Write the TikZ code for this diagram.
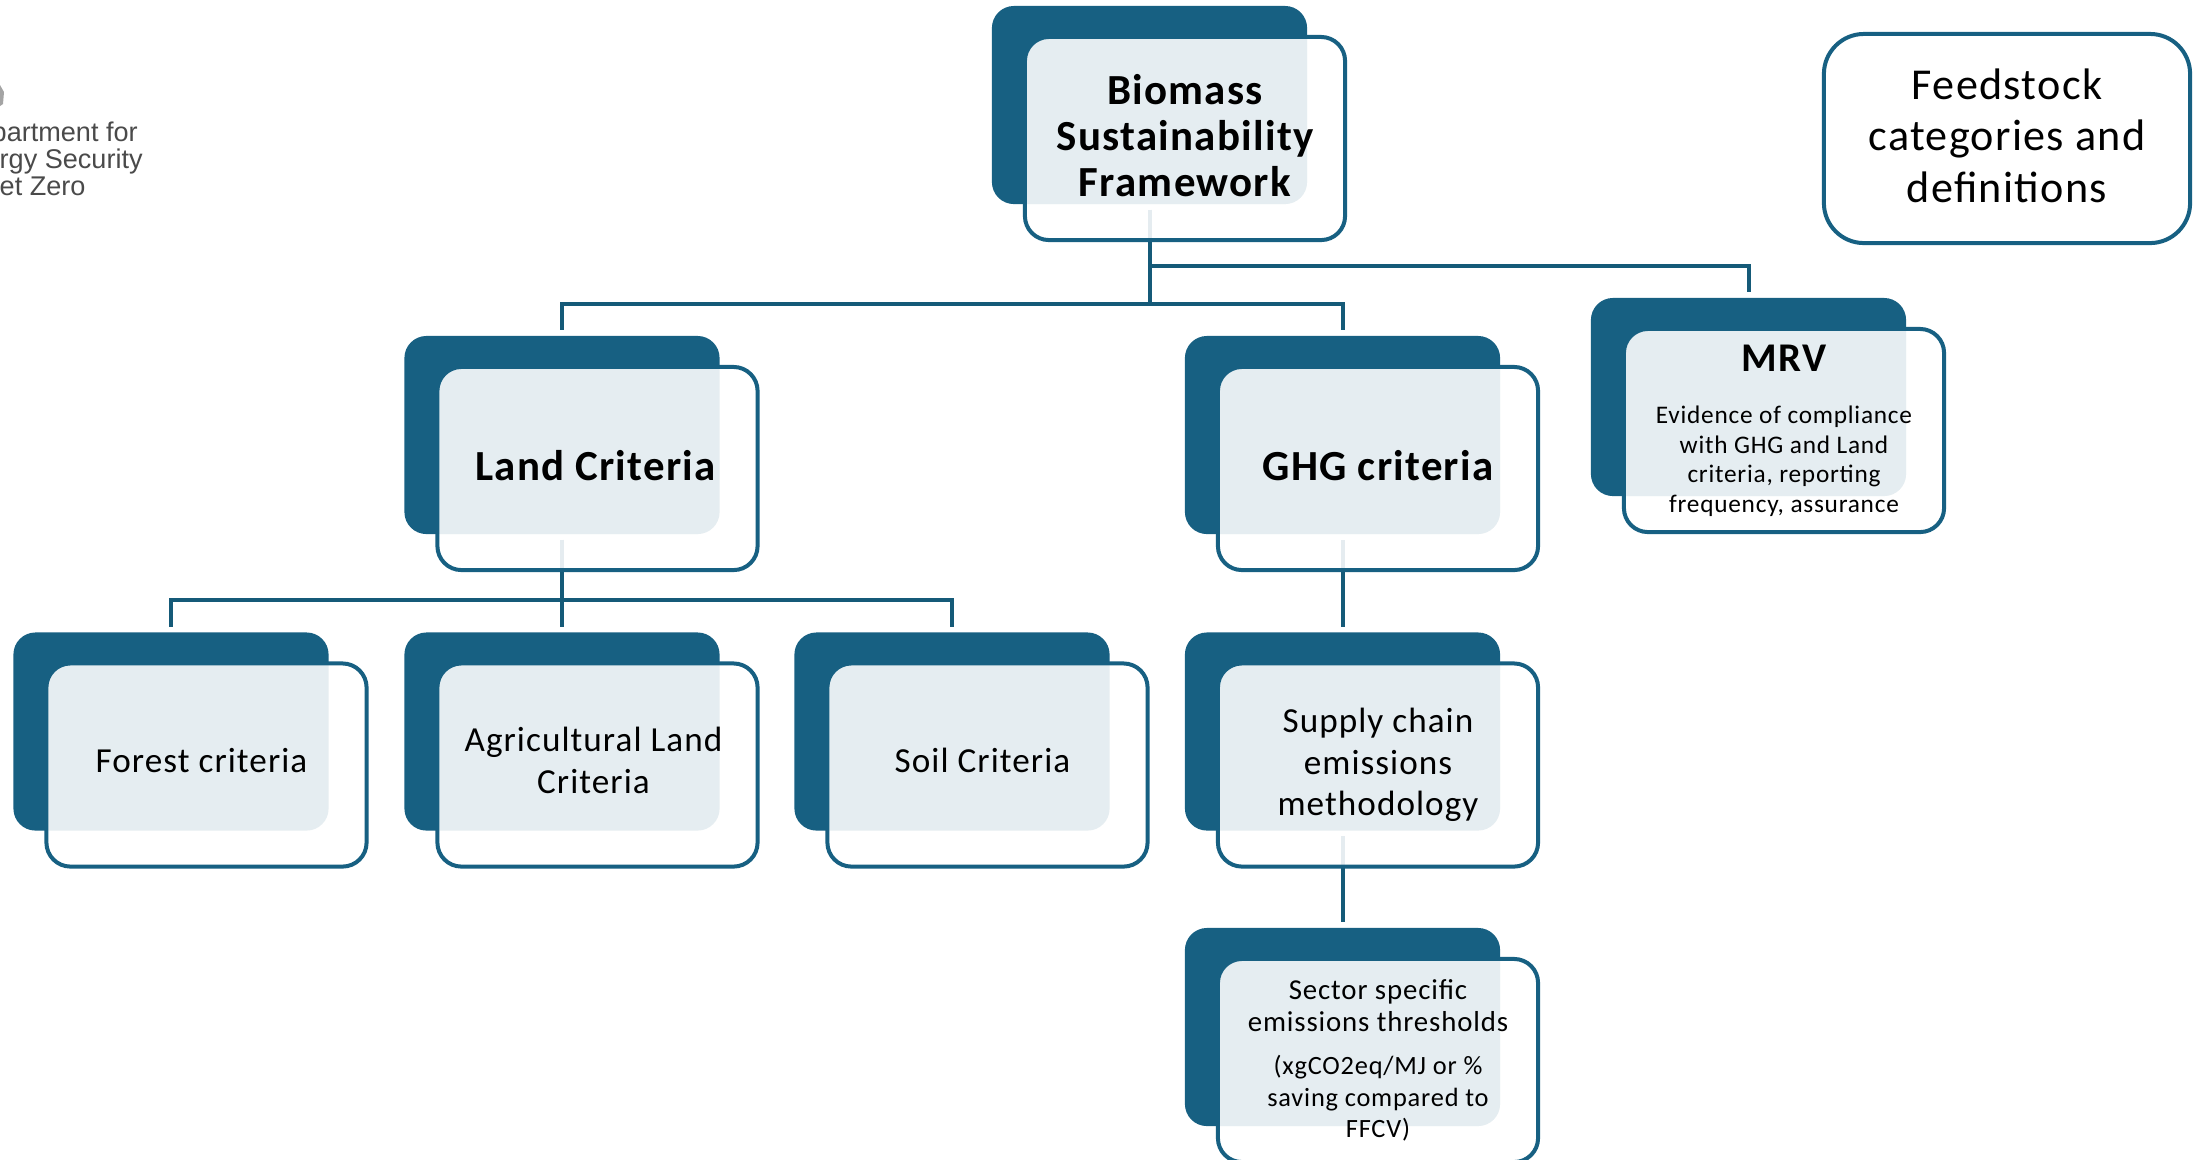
\documentclass[tikz,border=0pt]{standalone}
\usepackage{fontspec}
\setmainfont{Carlito}[LetterSpace=3]
\newfontfamily\logofont{Liberation Sans}
\usepackage{xcolor}
\definecolor{blockblue}{HTML}{176082}
\definecolor{linkblue}{HTML}{155A78}
\definecolor{logogrey}{HTML}{4A4A4A}
\newcommand{\sectorfont}{\fontsize{7.5}{8.9}\selectfont}
\newcommand{\sectorfontb}{\fontsize{8.2}{9.4}\selectfont}
\tikzset{
  blockback/.style={rectangle,rounded corners=.22cm,fill=blockblue,minimum width=3.15cm,minimum height=1.98cm,inner sep=0pt},
  blockfront/.style={rectangle,rounded corners=.24cm,draw=blockblue,line width=.04cm,fill=white,fill opacity=.89,draw opacity=1,text opacity=1,text=black,
    minimum width=3.2cm,minimum height=2.03cm,inner sep=0pt,align=center,font=\fontsize{10}{11.8}\selectfont},
  headtext/.style={font=\bfseries\fontsize{12.2}{13.2}\selectfont,text depth=.06cm},
  lifted/.style={text depth=.09cm},
  link/.style={draw=linkblue,line width=.04cm,shorten <=.05cm,shorten >=.05cm},
}
\begin{document}
\begin{tikzpicture}[x=.01cm,y=-.01cm]
\useasboundingbox (0,0) rectangle (2205,1159);
\node[blockback] (framework) at (1149.5,105) {};
\node[blockback] (land) at (562,435) {};
\node[blockback] (ghg) at (1342.5,435) {};
\node[blockback] (mrv) at (1748.5,397) {};
\node[blockback] (forest) at (171,731.5) {};
\node[blockback] (agri) at (562,731.5) {};
\node[blockback] (soil) at (952,731.5) {};
\node[blockback] (supply) at (1342.5,731.5) {};
\node[blockback] (sector) at (1342.5,1027) {};
\coordinate (busa) at (0,304);
\coordinate (busb) at (0,266);
\coordinate (busc) at (0,600);
\draw[link] (framework.south) -- (framework.south |- busa) -| (land.north);
\draw[link] (framework.south) -- (framework.south |- busa) -| (ghg.north);
\draw[link] (framework.south) -- (framework.south |- busb) -| (mrv.north);
\draw[link] (land.south) -- (land.south |- busc) -| (forest.north);
\draw[link] (land.south) -- (agri.north);
\draw[link] (land.south) -- (land.south |- busc) -| (soil.north);
\draw[link] (ghg.south) -- (supply.north);
\draw[link] (supply.south) -- (sector.north);
\node[blockfront,headtext] (frameworktext) at ([shift={(35.5,33.5)}]framework) {Biomass\\Sustainability\\Framework};
\node[blockfront,headtext] (landtext) at ([shift={(35.5,33.5)}]land) {Land Criteria\hspace*{.04cm}};
\node[blockfront,headtext] (ghgtext) at ([shift={(35.5,33.5)}]ghg) {GHG criteria};
\node[blockfront,font=\fontsize{7.2}{8.4}\selectfont] (mrvtext) at ([shift={(35.5,33.5)}]mrv) {{\bfseries\fontsize{11.6}{15}\selectfont MRV}\\[6.6pt]Evidence of compliance\\with GHG and Land\\criteria, reporting\\frequency, assurance};
\node[blockfront,lifted] (foresttext) at ([shift={(35.5,33.5)}]forest) {Forest criteria\hspace*{.1cm}};
\node[blockfront,lifted] (agritext) at ([shift={(35.5,33.5)}]agri) {Agricultural Land\hspace*{.08cm}\\Criteria\hspace*{.08cm}};
\node[blockfront,lifted] (soiltext) at ([shift={(35.5,33.5)}]soil) {Soil Criteria\hspace*{.1cm}};
\node[blockfront] (supplytext) at ([shift={(35.5,33.5)}]supply) {Supply chain\\emissions\\methodology};
\node[blockfront,font=\sectorfont] (sectortext) at ([shift={(35.5,33.5)}]sector) {\sectorfontb Sector specific\\\sectorfontb emissions thresholds\\[3.5pt](xgCO2eq/MJ or \%\\saving compared to\\FFCV)};
\node[rectangle,rounded corners=.4cm,draw=blockblue,line width=.04cm,minimum width=3.66cm,minimum height=2.09cm,inner sep=0pt,align=center,text depth=.06cm,font=\fontsize{12.55}{14.6}\selectfont] (feedstock) at (2007,138.5) {Feedstock\\categories and\\definitions};
\node[anchor=west,inner sep=0pt,align=left,text=logogrey,font=\logofont\fontsize{7.7}{7.7}\selectfont] (logo) at (-1,159) {\hspace*{-.08cm}partment for\\rgy Security\\et Zero};
\fill[logogrey!50] (0,85) -- (4,92) -- (3,104) -- (0,106) -- cycle;
\end{tikzpicture}
\end{document}
